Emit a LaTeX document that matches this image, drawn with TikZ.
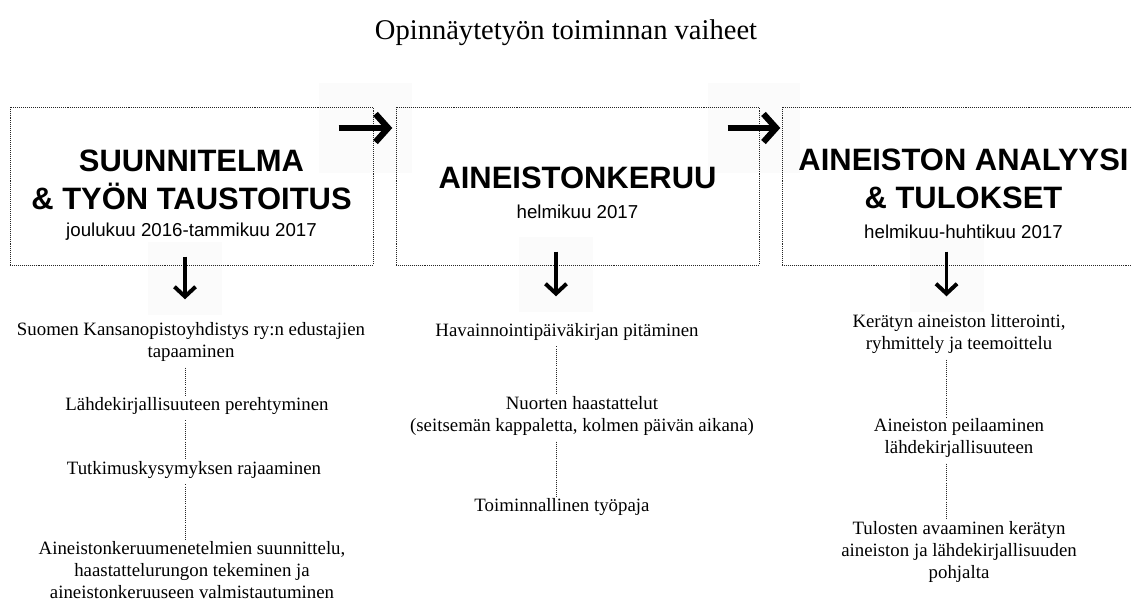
\documentclass[tikz,border=0pt]{standalone}
\usepackage{fontspec}
\setmainfont{Liberation Serif}
\setsansfont{Liberation Sans}
\usetikzlibrary{arrows.meta,calc}

\begin{document}
\begin{tikzpicture}[
    x=0.025cm, y=-0.025cm,
    phase/.style={rectangle, draw=black!85, line width=0.6pt, dash pattern=on 0.6pt off 0.8pt, minimum width=9.075cm, minimum height=3.95cm, inner sep=0pt},
    phasehead/.style={font=\sffamily\bfseries\fontsize{22}{27}\selectfont, align=center, inner sep=0pt},
    phasedate/.style={font=\sffamily\fontsize{13.3}{16}\selectfont, inner sep=0pt},
    task/.style={font=\fontsize{13.4}{15.8}\selectfont, align=center, inner sep=0pt},
    pad/.style={rectangle, fill=black!1.5, inner sep=0pt},
    rarr/.style={-{Straight Barb[length=9pt, width=20pt]}, line width=4.4pt},
    darr/.style={-{Straight Barb[length=7pt, width=15pt]}, line width=2.8pt},
    dotlink/.style={draw=black!85, line width=0.7pt, dash pattern=on 0.6pt off 0.9pt, shorten <=4pt, shorten >=1pt}
]
    \useasboundingbox (0,0) rectangle (1132,616);
    \clip (0,0) rectangle (1132,616);

    \node[font=\fontsize{20.3}{24}\selectfont] (title) at (566,33) {Opinnäytetyön toiminnan vaiheet};

    % light squares behind the arrows
    \node[pad, minimum width=2.325cm, minimum height=2.25cm] (rpad1) at (365.5,128) {};
    \node[pad, minimum width=2.3cm, minimum height=2.25cm] (rpad2) at (754,128) {};
    \node[pad, minimum width=1.85cm, minimum height=1.825cm] (dpad1) at (185,278.5) {};
    \node[pad, minimum width=1.85cm, minimum height=1.875cm] (dpad2) at (556,274.5) {};
    \node[pad, minimum width=1.85cm, minimum height=1.875cm] (dpad3) at (946.5,274.5) {};

    % phases
    \node[phase] (box1) at (191.5,186) {};
    \node[phase] (box2) at (577.5,186) {};
    \node[phase] (box3) at (963.5,186) {};

    \node[phasehead] (head1) at (191.5,180) {SUUNNITELMA\\\& TYÖN TAUSTOITUS};
    \node[phasedate] (date1) at (191.5,232) {joulukuu 2016-tammikuu 2017};
    \node[phasehead] (head2) at (577.5,178) {AINEISTONKERUU};
    \node[phasedate] (date2) at (577.5,212) {helmikuu 2017};
    \node[phasehead] (head3) at (963.5,179) {AINEISTON ANALYYSI\\\& TULOKSET};
    \node[phasedate] (date3) at (963.5,232) {helmikuu-huhtikuu 2017};

    \draw[rarr] ($(rpad1.west)+(20,0)$) -- ($(rpad1.east)+(-20,0)$);
    \draw[rarr] ($(rpad2.west)+(20,0)$) -- ($(rpad2.east)+(-20,0)$);
    \draw[darr] ($(dpad1.north)+(0,15)$) -- ($(dpad1.south)+(0,-16)$);
    \draw[darr] ($(dpad2.north)+(0,15)$) -- ($(dpad2.south)+(0,-16)$);
    \draw[darr] ($(dpad3.north)+(0,15)$) -- ($(dpad3.south)+(0,-16)$);

    % tasks of each phase
    \node[task] (s11) at (191,342) {Suomen Kansanopistoyhdistys ry:n edustajien\\tapaaminen};
    \node[task] (s12) at (197,406) {Lähdekirjallisuuteen perehtyminen};
    \node[task] (s13) at (194,470) {Tutkimuskysymyksen rajaaminen};
    \node[task] (s14) at (192,570) {Aineistonkeruumenetelmien suunnittelu,\\haastattelurungon tekeminen ja\\aineistonkeruuseen valmistautuminen};

    \node[task] (s21) at (567,332) {Havainnointipäiväkirjan pitäminen};
    \node[task] (s22) at (582,416) {Nuorten haastattelut\\(seitsemän kappaletta, kolmen päivän aikana)};
    \node[task] (s23) at (562,507) {Toiminnallinen työpaja};

    \node[task] (s31) at (959,334) {Kerätyn aineiston litterointi,\\ryhmittely ja teemoittelu};
    \node[task] (s32) at (959,438) {Aineiston peilaaminen\\lähdekirjallisuuteen};
    \node[task] (s33) at (959,552) {Tulosten avaaminen kerätyn\\aineiston ja lähdekirjallisuuden\\pohjalta};

    \draw[dotlink] (s11.south -| dpad1) -- (s12.north -| dpad1);
    \draw[dotlink] (s12.south -| dpad1) -- (s13.north -| dpad1);
    \draw[dotlink] (s13.south -| dpad1) -- (s14.north -| dpad1);
    \draw[dotlink] (s21.south -| dpad2) -- (s22.north -| dpad2);
    \draw[dotlink] (s22.south -| dpad2) -- (s23.north -| dpad2);
    \draw[dotlink] (s31.south -| dpad3) -- (s32.north -| dpad3);
    \draw[dotlink] (s32.south -| dpad3) -- (s33.north -| dpad3);
\end{tikzpicture}
\end{document}
